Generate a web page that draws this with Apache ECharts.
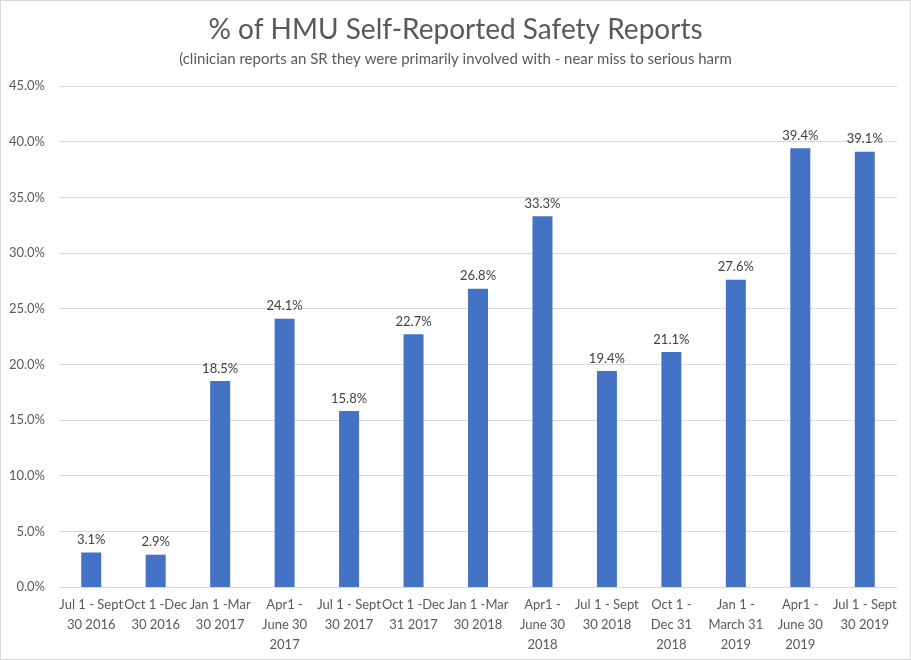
<!DOCTYPE html>
<html>
<head>
<meta charset="utf-8">
<script src="https://cdn.jsdelivr.net/npm/echarts@6/dist/echarts.min.js"></script>
<style>
html,body{margin:0;padding:0;background:#fff;}
#c{width:909px;height:658px;border:1px solid #d9d9d9;}
</style>
</head>
<body>
<div id="c"></div>
<script>
var categories = [
  "Jul 1 - Sept\n30 2016",
  "Oct 1 -Dec\n30 2016",
  "Jan 1 -Mar\n30 2017",
  "Apr1 -\nJune 30\n2017",
  "Jul 1 - Sept\n30 2017",
  "Oct 1 -Dec\n31 2017",
  "Jan 1 -Mar\n30 2018",
  "Apr1 -\nJune 30\n2018",
  "Jul 1 - Sept\n30 2018",
  "Oct 1 -\nDec 31\n2018",
  "Jan 1 -\nMarch 31\n2019",
  "Apr1 -\nJune 30\n2019",
  "Jul 1 - Sept\n30 2019"
];
var values = [3.1, 2.9, 18.5, 24.1, 15.8, 22.7, 26.8, 33.3, 19.4, 21.1, 27.6, 39.4, 39.1];
var titleText = "% of HMU Self-Reported Safety Reports";
var subtitleText = "(clinician reports an SR they were primarily involved with - near miss to serious harm";

var chart = echarts.init(document.getElementById('c'));
var font = "Lato, 'Open Sans', sans-serif";
chart.setOption({
  animation: false,
  title: {
    text: titleText,
    subtext: subtitleText,
    left: 'center',
    top: 10,
    itemGap: 8,
    textStyle: {fontFamily: font, fontSize: 28, fontWeight: 'normal', color: '#595959'},
    subtextStyle: {fontFamily: font, fontSize: 15, color: '#595959'}
  },
  grid: {left: 58, right: 13, top: 85, bottom: 72},
  xAxis: {
    type: 'category',
    data: categories,
    axisLine: {show: true, lineStyle: {color: '#d9d9d9'}},
    axisTick: {show: false},
    axisLabel: {interval: 0, fontFamily: font, fontSize: 13, color: '#595959', lineHeight: 20, margin: 8}
  },
  yAxis: {
    type: 'value',
    min: 0, max: 45, interval: 5,
    axisLine: {show: false},
    axisTick: {show: false},
    splitLine: {lineStyle: {color: '#d9d9d9'}},
    axisLabel: {fontFamily: font, fontSize: 13, color: '#595959', margin: 14,
      formatter: function(v){ return v.toFixed(1) + '%'; }}
  },
  series: [{
    type: 'bar',
    data: values,
    barWidth: 20,
    itemStyle: {color: '#4472c4'},
    label: {show: true, position: 'top', distance: 6, fontFamily: font, fontSize: 13, color: '#404040',
      formatter: function(p){ return p.value.toFixed(1) + '%'; }}
  }]
});
</script>
</body>
</html>
